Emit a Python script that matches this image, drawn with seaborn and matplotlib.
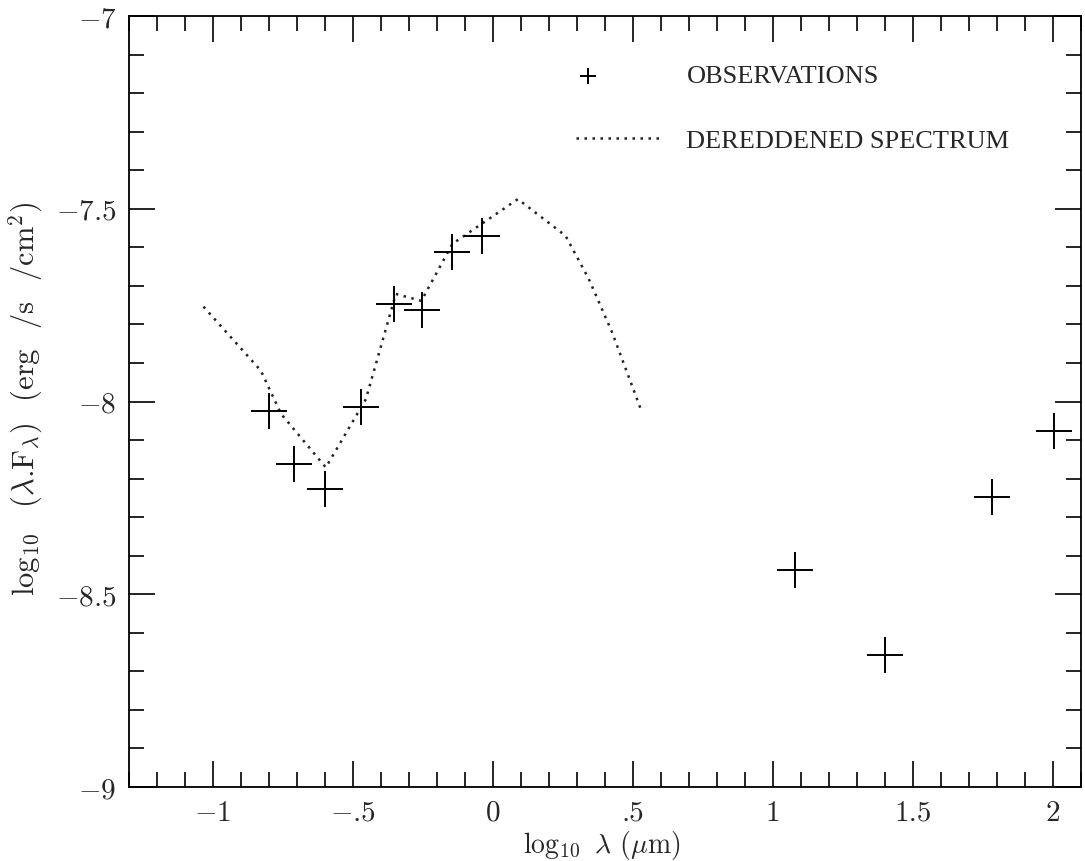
import matplotlib
matplotlib.use("Agg")
import matplotlib.pyplot as plt
import seaborn as sns
import numpy as np
from matplotlib.ticker import MultipleLocator, FuncFormatter

# ---- data ----
obs_x = [-0.801, -0.709, -0.600, -0.471, -0.353, -0.252, -0.145, -0.038,
         1.080, 1.400, 1.783, 2.003]
obs_y = [-8.024, -8.162, -8.227, -8.014, -7.746, -7.763, -7.611, -7.571,
         -8.436, -8.658, -8.249, -8.077]
spec_x = [-1.034, -0.829, -0.757, -0.597, -0.454, -0.347, -0.256, -0.145,
          0.089, 0.259, 0.342, 0.425, 0.532]
spec_y = [-7.754, -7.920, -8.032, -8.171, -7.994, -7.721, -7.739, -7.591,
          -7.475, -7.570, -7.682, -7.820, -8.028]
obs_label = "OBSERVATIONS"
spec_label = "DEREDDENED SPECTRUM"
xlabel = r"$\log_{10}$ $\lambda$ ($\mu$m)"
ylabel = r"$\log_{10}$  ($\lambda$.F$_\lambda$)  (erg  /s  /cm$^2$)"

sns.set_theme(style="white")
plt.rcParams["font.family"] = ["cmr10", "DejaVu Serif"]
plt.rcParams["mathtext.fontset"] = "cm"
plt.rcParams["axes.formatter.use_mathtext"] = True

fig = plt.figure(figsize=(10.85, 8.62), dpi=100)
ax = fig.add_axes([129/1085, 1-788/862, (1081-129)/1085, (788-17)/862])

sns.lineplot(x=spec_x, y=spec_y, sort=False, estimator=None, ax=ax,
             color="#222222", linewidth=1.8, linestyle=(0, (1, 2.2)),
             label=spec_label)
sns.scatterplot(x=obs_x, y=obs_y, marker="+", s=680, linewidth=1.4,
                color="black", ax=ax, label=obs_label, zorder=3)

ax.set_xlim(-1.3, 2.1)
ax.set_ylim(-9, -7)

def fmt(v, pos):
    if abs(v) < 1e-9:
        return "0"
    s = "%g" % abs(v)
    if s.startswith("0."):
        s = s[1:]
    return ("$-$" + s) if v < 0 else s

ax.xaxis.set_major_locator(MultipleLocator(0.5))
ax.xaxis.set_minor_locator(MultipleLocator(0.1))
ax.yaxis.set_major_locator(MultipleLocator(0.5))
ax.yaxis.set_minor_locator(MultipleLocator(0.1))
ax.xaxis.set_major_formatter(FuncFormatter(fmt))
ax.yaxis.set_major_formatter(FuncFormatter(fmt))

ax.tick_params(which="both", direction="in", top=True, right=True,
               bottom=True, left=True, color="black", width=1.2)
ax.tick_params(which="major", length=19, labelsize=21,
               labelfontfamily="cmr10")
ax.tick_params(axis="x", which="major", pad=9)
ax.tick_params(axis="y", which="major", pad=9)
ax.tick_params(which="minor", length=10.5)
for sp in ax.spines.values():
    sp.set_color("black")
    sp.set_linewidth(1.3)

ax.set_xlabel(xlabel, fontsize=20)
ax.xaxis.set_label_coords(0.497, (788 - 829) / 771)
ax.set_ylabel(ylabel, fontsize=22)
ax.yaxis.set_label_coords(-0.088, 0.505)

h, l = ax.get_legend_handles_labels()
hd = dict(zip(l, h))
leg_prop = {"family": "Liberation Serif", "size": 19}
leg1 = ax.legend([hd[obs_label]], [obs_label], loc="upper left",
                 bbox_to_anchor=(576/1085, 1-65/862),
                 bbox_transform=fig.transFigure, frameon=False,
                 prop=leg_prop, handlelength=0.9, handletextpad=3.3,
                 borderpad=0, borderaxespad=0, markerscale=0.42)
ax.add_artist(leg1)
leg2 = ax.legend([hd[spec_label]], [spec_label], loc="upper left",
                 bbox_to_anchor=(576/1085, 1-130/862),
                 bbox_transform=fig.transFigure, frameon=False,
                 prop=leg_prop, handlelength=3.15, handletextpad=1.0,
                 borderpad=0, borderaxespad=0)

fig.savefig("out.png", dpi=100)
